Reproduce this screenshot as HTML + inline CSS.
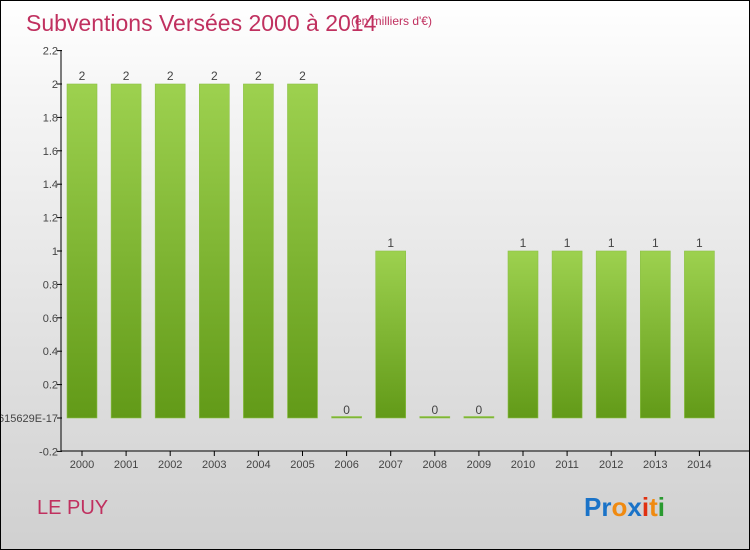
<!DOCTYPE html>
<html><head><meta charset="utf-8"><style>
body{margin:0}
#c{width:748px;height:548px;border:1px solid #000;background:linear-gradient(#fff,#f4f4f4 20%,#d0d0d0);position:relative;overflow:hidden;font-family:"Liberation Sans",sans-serif}
</style></head><body>
<div id="c">
<svg width="748" height="548" style="position:absolute;left:0;top:0">
<defs><linearGradient id="g" x1="0" y1="0" x2="0" y2="1"><stop offset="0" stop-color="#9dd14f"/><stop offset="1" stop-color="#629a18"/></linearGradient></defs>
<text x="25" y="30" font-size="23" fill="#c0305f">Subventions Versées 2000 à 2014</text>
<text x="350" y="24" font-size="12" fill="#c0305f">(en milliers d'€)</text>
<text x="36" y="513" font-size="20" fill="#c0305f">LE PUY</text>
<g id="plot"></g>
<g font-size="26" font-weight="bold">
<text x="583" y="515"><tspan fill="#1a73c8">Pr</tspan><tspan fill="#f08a10">o</tspan><tspan fill="#1a73c8">x</tspan><tspan fill="#e03010">i</tspan><tspan fill="#f08a10">t</tspan><tspan fill="#2a9a30">i</tspan></text>
</g>
</svg>
</div>
<script>
const years=["2000","2001","2002","2003","2004","2005","2006","2007","2008","2009","2010","2011","2012","2013","2014"];
const values=[2,2,2,2,2,2,0,1,0,0,1,1,1,1,1];
const tickValues=[-0.2,0,0.2,0.4,0.6,0.8,1,1.2,1.4,1.6,1.8,2,2.2];
const tickLabels=["-0.2","-1.5615629E-17","0.2","0.4","0.6","0.8","1","1.2","1.4","1.6","1.8","2","2.2"];
const NS="http://www.w3.org/2000/svg";
const g=document.getElementById('plot');
const y=v=>417-(v/0.2)*33.4;
const x=i=>81+i*44.1;
function el(t,a,txt){const e=document.createElementNS(NS,t);for(const k in a)e.setAttribute(k,a[k]);if(txt!==undefined)e.textContent=txt;g.appendChild(e);return e;}
years.forEach((yr,i)=>{
 const top=y(values[i]),h=Math.max(y(0)-top,1.5);
 const b=el('rect',{x:x(i)-15,y:Math.min(top,y(0)-1.5),width:30,height:h,fill:'url(#g)',stroke:'#8cc048','stroke-width':0.6});
 
 
 const l=el('text',{x:x(i),y:top-4,'font-size':12,fill:'#444','text-anchor':'middle'},String(values[i]));
 
 
 el('line',{x1:x(i),x2:x(i),y1:450,y2:455,stroke:'#000'});
 const t=el('text',{x:x(i),y:467,'font-size':11,fill:'#444','text-anchor':'middle'},yr);
 
 
});
tickValues.forEach((v,i)=>{
 el('line',{x1:56,x2:61,y1:y(v),y2:y(v),stroke:'#000'});
 const t=el('text',{x:57,y:y(v)+4,'font-size':11,fill:'#444','text-anchor':'end'},tickLabels[i]);
 
 
});
const ya=el('line',{x1:60,x2:60,y1:49,y2:450,stroke:'#000'});


const xa=el('line',{x1:60,x2:748,y1:450,y2:450,stroke:'#000'});


</script>
</body></html>
